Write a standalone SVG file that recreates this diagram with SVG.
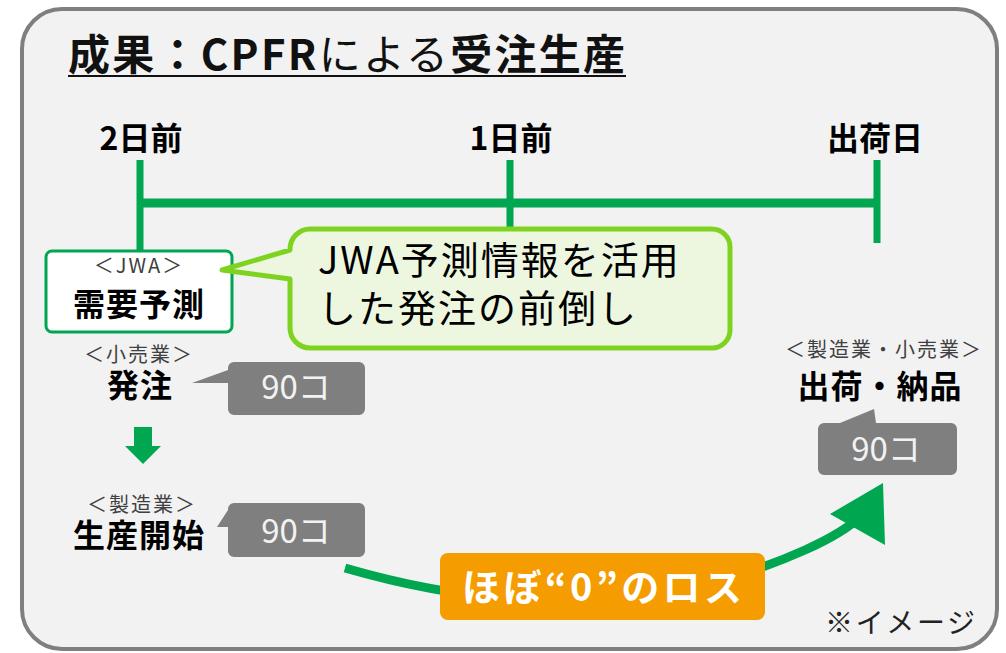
<svg xmlns="http://www.w3.org/2000/svg" width="1006" height="653" viewBox="0 0 1006 653">
<style>
.jp{font-family:"Noto Sans CJK JP","Noto Sans",sans-serif;}
.lbl{font-size:32px;font-weight:bold;fill:#000;text-anchor:middle;}
.sm{font-size:20px;fill:#404040;text-anchor:middle;letter-spacing:2px;}
.big{font-size:32px;font-weight:bold;fill:#000;text-anchor:middle;}
.qty{font-size:33px;fill:#f2f2f2;text-anchor:middle;}
.gbox{fill:#7f7f7f;}
.tl{stroke:#00a650;fill:none;}
</style>
<rect id="frame" x="22" y="9" width="975" height="640" rx="40" ry="40" fill="#f2f2f2" stroke="#7f7f7f" stroke-width="4"/>
<g id="title">
<text class="jp" x="68" y="70" font-size="42" fill="#111" textLength="557"><tspan font-weight="bold">成果：CPFR</tspan><tspan>による</tspan><tspan font-weight="bold">受注生産</tspan></text>
<line x1="68" y1="76" x2="626" y2="76" stroke="#111" stroke-width="2"/>
</g>
<g id="timeline">
<line class="tl" x1="140" y1="203" x2="878" y2="203" stroke-width="9"/>
<line class="tl" x1="140" y1="160" x2="140" y2="252" stroke-width="7"/>
<line class="tl" x1="510" y1="160" x2="510" y2="232" stroke-width="7"/>
<line class="tl" x1="877" y1="160" x2="877" y2="243" stroke-width="7"/>
<text class="jp lbl" x="141" y="150">2日前</text>
<text class="jp lbl" x="511" y="150">1日前</text>
<text class="jp lbl" x="875" y="150">出荷日</text>
</g>
<g id="connectors">
<polygon points="134,427 152,427 152,446 161,446 143,464 125,446 134,446" fill="#00a650"/>
<path d="M345,568 Q600,642 805,550 Q845,532 862,515" fill="none" stroke="#00a650" stroke-width="9"/>
<polygon points="883,483 830,514 885,545" fill="#00a650"/>
</g>
<g id="node-jwa">
<rect x="46" y="251" width="186" height="81" rx="6" fill="#fff" stroke="#00a650" stroke-width="3"/>
<text class="jp sm" x="139" y="273">＜JWA＞</text>
<text class="jp big" x="139" y="316" letter-spacing="1">需要予測</text>
</g>
<g id="callout-jwa">
<path d="M310,229 H712 A18,18 0 0 1 730,247 V330 A18,18 0 0 1 712,348 H310 A20,20 0 0 1 290,328 V279 L222,270 L290,250 V249 A20,20 0 0 1 310,229 Z" fill="#edf7df" stroke="#7ed320" stroke-width="5" stroke-linejoin="round"/>
<text class="jp" x="318" y="274" font-size="38" fill="#000" letter-spacing="2">JWA予測情報を活用</text>
<text class="jp" x="318" y="322" font-size="38" fill="#000" letter-spacing="2">した発注の前倒し</text>
</g>
<g id="node-order">
<text class="jp sm" x="139" y="362">＜小売業＞</text>
<text class="jp big" x="140" y="397" letter-spacing="1">発注</text>
<path class="gbox" d="M234,362 H359 A6,6 0 0 1 365,368 V409 A6,6 0 0 1 359,415 H234 A6,6 0 0 1 228,409 V383 L192,383 L228,370 V368 A6,6 0 0 1 234,362 Z"/>
<text class="jp qty" x="296" y="399">90コ</text>
</g>
<g id="node-production">
<text class="jp sm" x="142" y="512">＜製造業＞</text>
<text class="jp big" x="139" y="547" letter-spacing="1">生産開始</text>
<path class="gbox" d="M234,503 H359 A6,6 0 0 1 365,509 V551 A6,6 0 0 1 359,557 H234 A6,6 0 0 1 228,551 V527 L217,527 L228,510 V509 A6,6 0 0 1 234,503 Z"/>
<text class="jp qty" x="296" y="543">90コ</text>
</g>
<g id="node-ship">
<text class="jp sm" x="884" y="357">＜製造業・小売業＞</text>
<text class="jp big" x="880" y="398" letter-spacing="1">出荷・納品</text>
<path class="gbox" d="M824,423 H840 L874,409 L876,423 H951 A6,6 0 0 1 957,429 V469 A6,6 0 0 1 951,475 H824 A6,6 0 0 1 818,469 V429 A6,6 0 0 1 824,423 Z"/>
<text class="jp qty" x="886" y="461">90コ</text>
</g>
<g id="loss-label">
<rect x="440" y="553" width="325" height="67" rx="8" fill="#f59c00"/>
<text class="jp" x="462" y="601" font-size="38" font-weight="bold" fill="#fff" textLength="280">ほぼ“0”のロス</text>
</g>
<text class="jp" x="825" y="633" font-size="28" fill="#222" textLength="150">※イメージ</text>
</svg>
